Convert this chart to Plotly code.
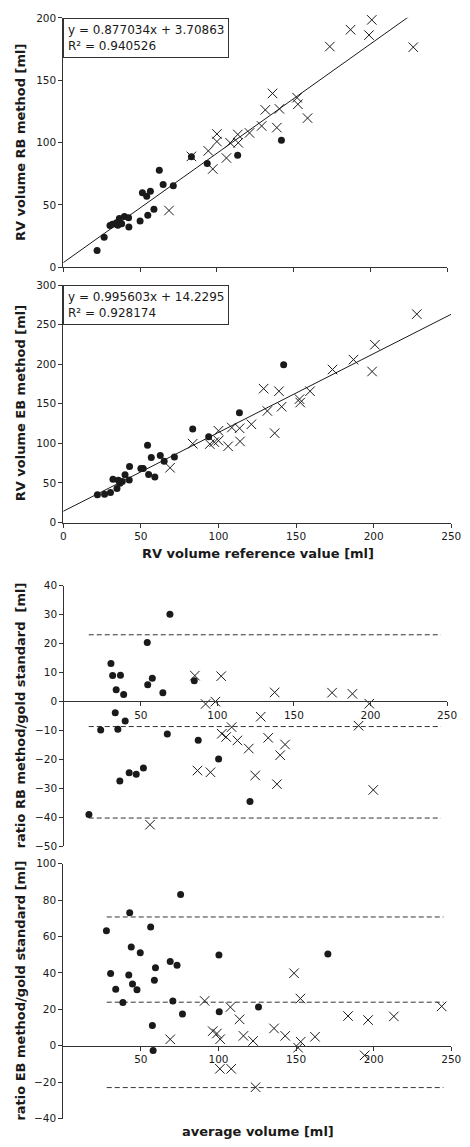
import plotly.graph_objects as go

W, H = 470, 1147

# ---------------- Panels 1-2: method vs reference ----------------
ref_dot = [22.0, 26.6, 30.4, 32.0, 34.6, 35.5, 36.5, 38.0, 39.8, 42.5, 42.7, 50.0,
           51.5, 54.3, 55.0, 56.7, 59.0, 62.5, 65.0, 71.6, 83.4, 93.7, 113.5, 142.0]
rb_dot = [13.4, 24.0, 33.5, 34.4, 35.7, 33.6, 39.0, 34.8, 40.7, 39.7, 32.3, 37.0,
          59.8, 57.0, 41.6, 61.0, 46.5, 77.8, 66.3, 65.3, 88.6, 83.1, 89.8, 101.9]
eb_dot = [35.0, 35.8, 37.9, 54.6, 42.9, 53.3, 49.6, 51.7, 60.4, 53.8, 70.8, 68.3,
          68.3, 97.5, 60.8, 82.1, 57.5, 84.6, 77.5, 82.9, 118.3, 108.5, 138.8, 199.2]

ref_x = [68.8, 83.4, 94.4, 97.3, 100.0, 100.0, 106.2, 108.6, 113.6, 113.9, 121.2, 129.1,
         131.5, 136.2, 139.0, 140.7, 152.2, 152.7, 159.0, 173.5, 187.0, 199.0, 200.8, 227.8]
rb_x = [45.5, 88.9, 93.3, 78.8, 106.9, 100.8, 87.6, 99.8, 106.5, 99.8, 107.7, 113.3,
        126.2, 139.4, 112.0, 127.0, 136.0, 130.7, 119.6, 177.0, 190.5, 186.2, 198.4, 176.5]
eb_x = [69.2, 99.6, 99.1, 101.6, 103.4, 115.9, 96.3, 120.0, 119.1, 102.5, 124.1, 169.1,
        140.9, 112.9, 165.9, 146.3, 155.9, 151.6, 165.9, 193.3, 205.8, 190.8, 224.6, 263.3]

rb_slope, rb_intercept, rb_r2 = 0.877034, 3.70863, 0.940526
eb_slope, eb_intercept, eb_r2 = 0.995603, 14.2295, 0.928174
fit_x = [0, 250]

# ---------------- Panel 3: RB Bland-Altman ----------------
ba_rb_avg_dot = [16.1, 23.8, 30.5, 31.6, 33.3, 33.9, 35.0, 36.3, 36.7, 38.8, 39.8, 42.4,
                 47.0, 51.7, 54.2, 54.5, 57.5, 64.4, 67.3, 69.0, 84.9, 87.5, 100.8, 121.3]
ba_rb_diff_dot = [-39.1, -9.9, 13.1, 8.9, -3.9, 4.0, -9.6, -27.5, 9.0, 2.4, -6.8, -24.7,
                  -25.2, -23.0, 20.3, 5.7, 8.0, 3.0, -11.3, 30.1, 7.1, -13.4, -19.9, -34.6]
ba_rb_avg_x = [56.0, 85.3, 87.0, 92.3, 95.5, 98.7, 102.5, 102.9, 105.7, 109.3, 113.1, 120.5,
               124.7, 128.3, 133.2, 137.4, 138.9, 141.0, 144.2, 174.9, 188.2, 192.2, 199.2, 201.8]
ba_rb_diff_x = [-42.6, 8.9, -23.9, -0.9, -24.5, -0.1, 8.7, -11.2, -12.3, -8.9, -13.5, -16.3,
                -25.6, -5.3, -12.6, 3.1, -28.6, -18.6, -14.9, 3.0, 2.6, -8.4, -0.8, -30.6]
rb_limits = [23.0, -8.7, -40.3]
rb_limit_x = [16, 246]

# ---------------- Panel 4: EB Bland-Altman ----------------
ba_eb_avg_dot = [27.8, 30.5, 33.8, 38.4, 42.2, 42.8, 43.8, 44.6, 47.5, 49.6, 56.3, 57.4,
                 57.9, 58.7, 59.4, 68.9, 70.6, 73.3, 75.6, 76.8, 100.3, 100.5, 125.8, 170.5]
ba_eb_diff_dot = [63.2, 39.7, 31.0, 23.7, 38.8, 73.0, 54.2, 33.9, 30.8, 51.1, 65.2, 11.1,
                  -2.7, 35.9, 42.8, 46.2, 24.5, 44.2, 83.1, 17.4, 49.8, 18.7, 21.2, 50.3]
ba_eb_avg_x = [68.9, 91.1, 96.3, 99.0, 101.1, 100.9, 107.7, 108.2, 113.6, 116.1, 122.3, 123.9,
               135.8, 143.0, 148.7, 151.3, 152.8, 153.0, 162.2, 183.5, 194.2, 196.4, 213.0, 243.8]
ba_eb_diff_x = [3.5, 24.6, 8.0, 6.7, 3.6, -12.7, 21.2, -12.7, 14.5, 5.4, 2.6, -22.8,
                9.5, 5.4, 39.8, -1.1, 25.9, 2.2, 4.9, 16.3, -5.3, 14.1, 16.1, 21.6]
eb_limits = [70.7, 23.9, -23.0]
eb_limit_x = [28, 245]

INK = "#1a1a1a"
AX = "#333333"
FONT = "DejaVu Sans"


def px_x(p):
    return p / W


def px_y(p):
    return 1 - p / H


fig = go.Figure()


def add_points(xs, ys, xd, yd, xa, ya):
    fig.add_trace(go.Scatter(x=xs, y=ys, mode="markers", xaxis=xa, yaxis=ya,
                             cliponaxis=False,
                             marker=dict(symbol="circle", size=7, color=INK,
                                         line=dict(width=0))))
    fig.add_trace(go.Scatter(x=xd, y=yd, mode="markers", xaxis=xa, yaxis=ya,
                             cliponaxis=False,
                             marker=dict(symbol="x-thin-open", size=9.5, color=INK,
                                         line=dict(width=1, color=INK))))


# Panel 1
fig.add_trace(go.Scatter(x=fit_x, y=[rb_slope * v + rb_intercept for v in fit_x],
                         mode="lines", line=dict(color=INK, width=1), xaxis="x", yaxis="y"))
add_points(ref_dot, rb_dot, ref_x, rb_x, "x", "y")

# Panel 2
fig.add_trace(go.Scatter(x=fit_x, y=[eb_slope * v + eb_intercept for v in fit_x],
                         mode="lines", line=dict(color=INK, width=1), xaxis="x2", yaxis="y2"))
add_points(ref_dot, eb_dot, ref_x, eb_x, "x2", "y2")

# Panel 3
for v in rb_limits:
    fig.add_trace(go.Scatter(x=rb_limit_x, y=[v, v], mode="lines", xaxis="x3", yaxis="y3",
                             line=dict(color="#333333", width=1, dash="5px,3px")))
add_points(ba_rb_avg_dot, ba_rb_diff_dot, ba_rb_avg_x, ba_rb_diff_x, "x3", "y3")

# Panel 4
for v in eb_limits:
    fig.add_trace(go.Scatter(x=eb_limit_x, y=[v, v], mode="lines", xaxis="x4", yaxis="y4",
                             line=dict(color="#333333", width=1, dash="5px,3px")))
add_points(ba_eb_avg_dot, ba_eb_diff_dot, ba_eb_avg_x, ba_eb_diff_x, "x4", "y4")

tickfont = dict(family=FONT, size=10.5, color=INK)
common = dict(showgrid=False, zeroline=False, showline=True, linecolor=AX, linewidth=1,
              ticks="outside", ticklen=4, tickwidth=1, tickcolor=AX, tickfont=tickfont,
              ticklabeloverflow="allow")

# domains in pixels
p1 = dict(x=(62, 457), y=(12, 264), r=(0, 200))
p2 = dict(x=(62, 461), y=(282, 522), r=(0, 300))
p3 = dict(x=(63, 456.7), y=(585.7, 849), r=(-50, 40))
p4 = dict(x=(62, 461), y=(866.7, 1124.3), r=(-40, 100))


def xdom(p):
    return [px_x(p["x"][0]), px_x(p["x"][1])]


def ydom(p):
    return [px_y(p["y"][1]), px_y(p["y"][0])]


def zero_pos(p):
    d = ydom(p)
    r0, r1 = p["r"]
    return d[0] + (0 - r0) / (r1 - r0) * (d[1] - d[0])


fig.update_layout(
    width=W, height=H, margin=dict(l=0, r=0, t=0, b=0),
    paper_bgcolor="white", plot_bgcolor="white", showlegend=False,
    font=dict(family=FONT, color=INK),
    xaxis=dict(domain=xdom(p1), range=[0, 250], tickvals=[0, 50, 100, 150, 200, 250],
               showticklabels=False, anchor="y", **common),
    yaxis=dict(domain=ydom(p1), range=list(p1["r"]), tickvals=[0, 50, 100, 150, 200],
               anchor="x", **common),
    xaxis2=dict(domain=xdom(p2), range=[0, 250], tickvals=[0, 50, 100, 150, 200, 250],
                anchor="y2", **common),
    yaxis2=dict(domain=ydom(p2), range=list(p2["r"]), tickvals=[0, 50, 100, 150, 200, 250, 300],
                anchor="x2", **common),
    xaxis3=dict(domain=xdom(p3), range=[0, 250], tickvals=[50, 100, 150, 200, 250],
                anchor="free", position=zero_pos(p3), **common),
    yaxis3=dict(domain=ydom(p3), range=list(p3["r"]), tickvals=list(range(-50, 41, 10)),
                anchor="x3", **common),
    xaxis4=dict(domain=xdom(p4), range=[0, 250], tickvals=[50, 100, 150, 200, 250],
                anchor="free", position=zero_pos(p4), **common),
    yaxis4=dict(domain=ydom(p4), range=list(p4["r"]), tickvals=list(range(-40, 101, 20)),
                anchor="x4", **common),
)

title_font = dict(family=FONT, size=13, color=INK)
annots = []


def ytitle(text, p):
    cy = (p["y"][0] + p["y"][1]) / 2
    annots.append(dict(text="<b>" + text + "</b>", xref="paper", yref="paper",
                       x=px_x(18), y=px_y(cy), xanchor="center", yanchor="middle",
                       textangle=-90, showarrow=False, font=title_font))


ytitle("RV volume RB method [ml]", p1)
ytitle("RV volume EB method [ml]", p2)
ytitle("ratio RB method/gold standard\u00a0 [ml]", p3)
ytitle("ratio EB method/gold standard [ml]", p4)

annots.append(dict(text="<b>RV volume reference value [ml]</b>", xref="paper", yref="paper",
                   x=px_x(262), y=px_y(553), xanchor="center", yanchor="middle",
                   showarrow=False, font=title_font))
annots.append(dict(text="<b>average volume [ml]</b>", xref="paper", yref="paper",
                   x=px_x(262), y=px_y(1137), xanchor="center", yanchor="middle",
                   showarrow=False, font=title_font))


def eq_box(slope, intercept, r2, p):
    annots.append(dict(text=f"y = {slope}x + {intercept}<br>R² = {r2}",
                       xref="paper", yref="paper", x=px_x(p["x"][0]), y=px_y(p["y"][0]),
                       xanchor="left", yanchor="top", align="left", showarrow=False,
                       bordercolor=AX, borderwidth=1, borderpad=4, bgcolor="white",
                       font=dict(family=FONT, size=12, color=INK)))


eq_box(rb_slope, rb_intercept, rb_r2, p1)
eq_box(eb_slope, eb_intercept, eb_r2, p2)

fig.update_layout(annotations=annots)
fig.write_html("out.html",
               config={"displayModeBar": False, "staticPlot": True},
               post_script="document.body.style.margin='0';document.body.style.overflow='hidden';")
